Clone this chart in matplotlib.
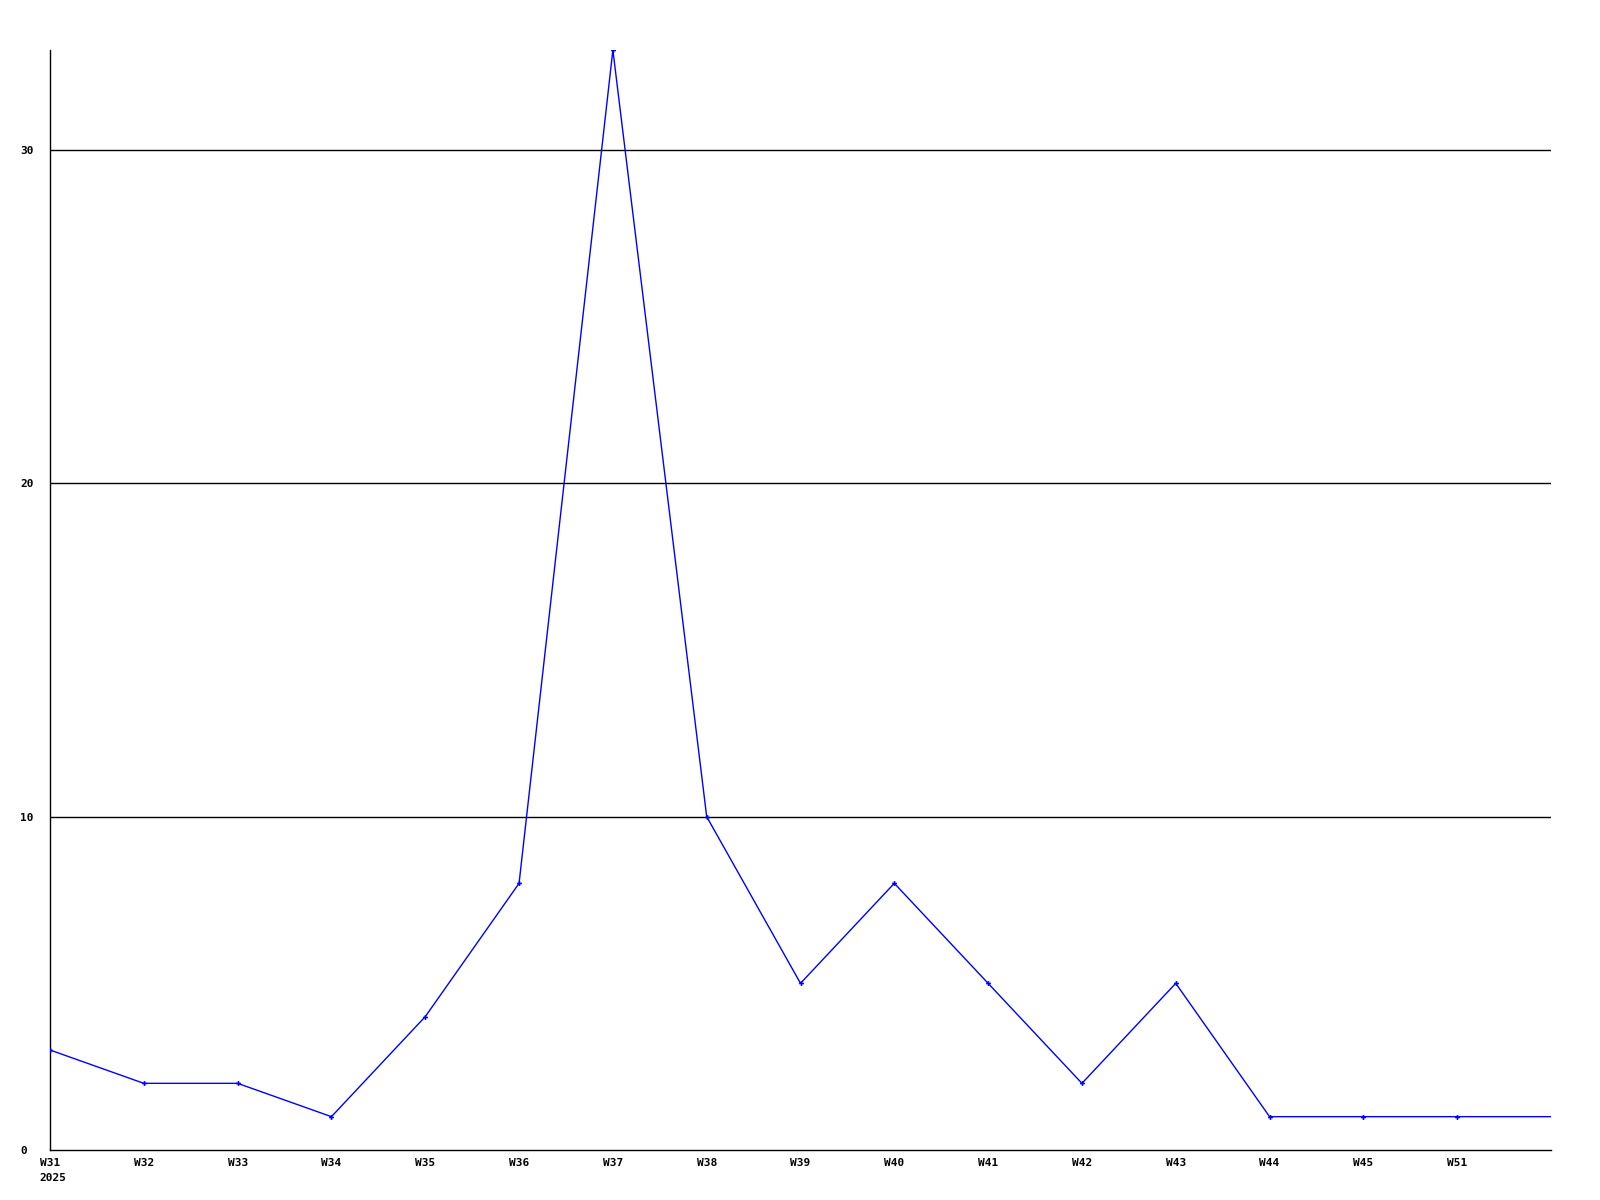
import matplotlib
matplotlib.use("Agg")
import matplotlib.pyplot as plt

weeks = ["W31", "W32", "W33", "W34", "W35", "W36", "W37", "W38", "W39",
         "W40", "W41", "W42", "W43", "W44", "W45", "W51"]
values = [3, 2, 2, 1, 4, 8, 33, 10, 5, 8, 5, 2, 5, 1, 1, 1]
tail_value = 1  # line continues to the right edge
year_label = "2025"
y_ticks = [0, 10, 20, 30]

fig = plt.figure(figsize=(16, 12), dpi=100)
ax = fig.add_axes([50/1600, 50/1200, 1501/1600, 1100/1200])

xs = list(range(len(weeks)))
ax.plot(xs + [len(weeks)], values + [tail_value], color="#0000ff", lw=1.0, zorder=3)
ax.plot(xs, values, linestyle="none", marker="P", markersize=3.5,
        color="#0000ff", markeredgewidth=0, zorder=4)

ax.set_xlim(0, len(weeks))
ax.set_ylim(0, 33)

for t in y_ticks[1:]:
    ax.axhline(t, color="black", lw=1.0, zorder=1)

for s in ["top", "right"]:
    ax.spines[s].set_visible(False)
for s in ["left", "bottom"]:
    ax.spines[s].set_color("black")
    ax.spines[s].set_linewidth(1.0)

font = dict(family="DejaVu Sans Mono", fontsize=8, fontweight="bold")
ax.set_yticks(y_ticks)
ax.set_yticklabels([str(t) for t in y_ticks], ha="left", **font)
ax.set_xticks(xs)
ax.set_xticklabels(weeks, **font)
ax.tick_params(axis="both", length=0)
ax.tick_params(axis="y", pad=21.5)
ax.tick_params(axis="x", pad=6)

ax.text(0, -0.021, year_label, transform=ax.get_xaxis_transform(),
        ha="left", va="top", **font)
# shift year label so it starts where the W31 label starts
fig.canvas.draw()
w31 = ax.get_xticklabels()[0].get_window_extent()
yr = ax.texts[0]
yr.set_transform(ax.transAxes)
x0_axes = ax.transAxes.inverted().transform((w31.x0, 0))[0]
yr.set_position((x0_axes, -0.021))

fig.savefig("out.png", dpi=100)
